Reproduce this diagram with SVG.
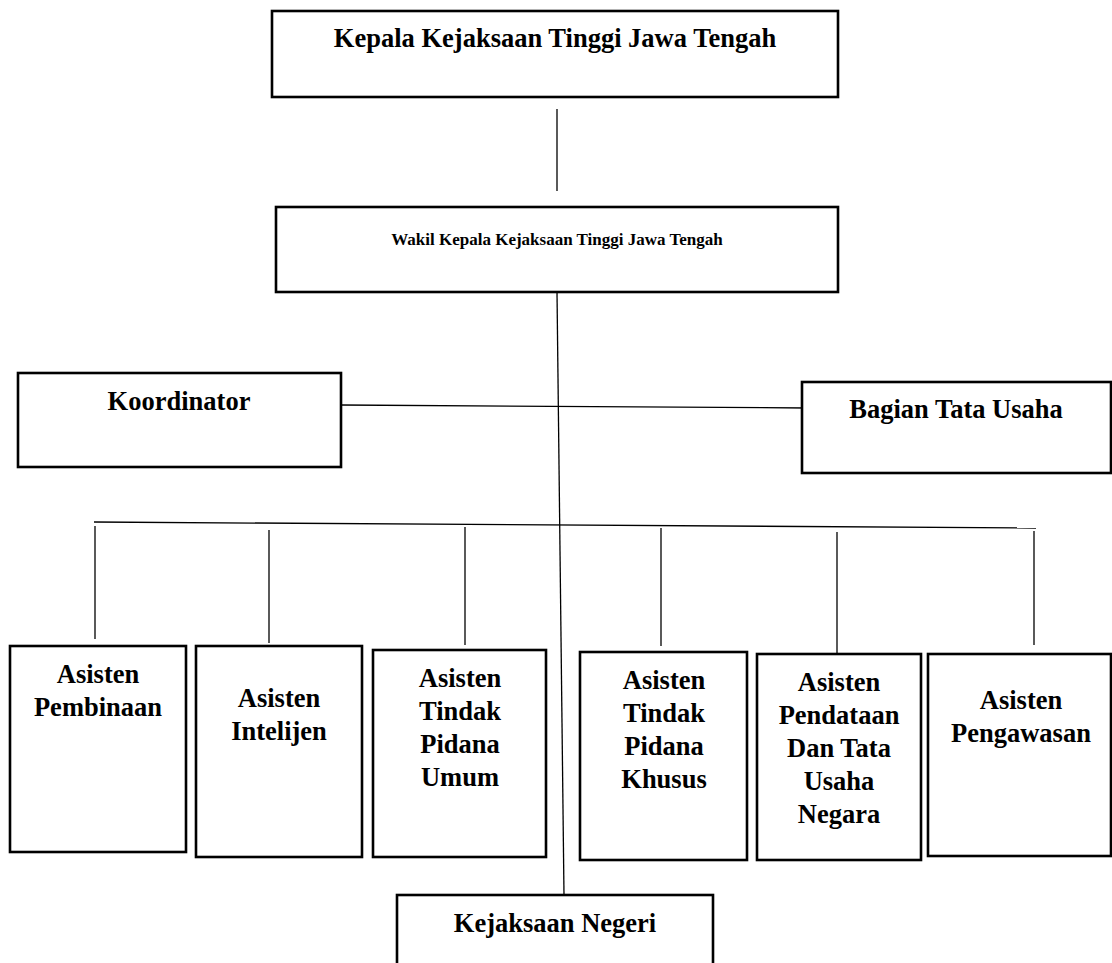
<svg xmlns="http://www.w3.org/2000/svg" width="1112" height="963" viewBox="0 0 1112 963">
<style>
.box{fill:#fff;stroke:#000;stroke-width:2.6}
.t{font-family:"Liberation Serif","Times New Roman",serif;font-weight:bold;font-size:26.5px;fill:#000;text-anchor:middle}
.s{font-size:17px}
.c{stroke:#000;stroke-width:1.3;fill:none}
</style>
<rect width="1112" height="963" fill="#fff"/>
<g id="connectors">
<line class="c" x1="557" y1="109" x2="557" y2="191"/>
<line class="c" x1="557" y1="292" x2="564" y2="895"/>
<line class="c" x1="341" y1="405" x2="807" y2="408"/>
<line class="c" x1="94" y1="522" x2="1036" y2="528"/>
<line class="c" x1="95" y1="526" x2="95" y2="639"/>
<line class="c" x1="269" y1="530" x2="269" y2="643"/>
<line class="c" x1="465" y1="527" x2="465" y2="645"/>
<line class="c" x1="661" y1="528" x2="661" y2="646"/>
<line class="c" x1="837" y1="532" x2="837" y2="653"/>
<line class="c" x1="1034" y1="531" x2="1034" y2="645"/>
</g>
<g id="kepala">
<rect class="box" x="272" y="11" width="566" height="86"/>
<text class="t" x="555" y="47">Kepala Kejaksaan Tinggi Jawa Tengah</text>
</g>
<g id="wakil">
<rect class="box" x="276" y="207" width="562" height="85"/>
<text class="t s" x="557" y="245">Wakil Kepala Kejaksaan Tinggi Jawa Tengah</text>
</g>
<g id="koordinator">
<rect class="box" x="18" y="373" width="323" height="94"/>
<text class="t" x="179" y="410">Koordinator</text>
</g>
<g id="tata-usaha">
<rect class="box" x="802" y="382" width="309" height="91"/>
<text class="t" x="956" y="418">Bagian Tata Usaha</text>
</g>
<g id="pembinaan">
<rect class="box" x="10" y="646" width="176" height="206"/>
<text class="t" x="98" y="683">Asisten</text>
<text class="t" x="98" y="716">Pembinaan</text>
</g>
<g id="intelijen">
<rect class="box" x="196" y="646" width="166" height="211"/>
<text class="t" x="279" y="707">Asisten</text>
<text class="t" x="279" y="740">Intelijen</text>
</g>
<g id="pidum">
<rect class="box" x="373" y="650" width="173" height="207"/>
<text class="t" x="460" y="687">Asisten</text>
<text class="t" x="460" y="720">Tindak</text>
<text class="t" x="460" y="753">Pidana</text>
<text class="t" x="460" y="786">Umum</text>
</g>
<g id="pidsus">
<rect class="box" x="580" y="652" width="167" height="208"/>
<text class="t" x="664" y="689">Asisten</text>
<text class="t" x="664" y="722">Tindak</text>
<text class="t" x="664" y="755">Pidana</text>
<text class="t" x="664" y="788">Khusus</text>
</g>
<g id="pendataan">
<rect class="box" x="757" y="654" width="164" height="206"/>
<text class="t" x="839" y="691">Asisten</text>
<text class="t" x="839" y="724">Pendataan</text>
<text class="t" x="839" y="757">Dan Tata</text>
<text class="t" x="839" y="790">Usaha</text>
<text class="t" x="839" y="823">Negara</text>
</g>
<g id="pengawasan">
<rect class="box" x="928" y="654" width="183" height="202"/>
<text class="t" x="1021" y="709">Asisten</text>
<text class="t" x="1021" y="742">Pengawasan</text>
</g>
<g id="kejari">
<rect class="box" x="397" y="895" width="316" height="80"/>
<text class="t" x="555" y="932">Kejaksaan Negeri</text>
</g>
</svg>
